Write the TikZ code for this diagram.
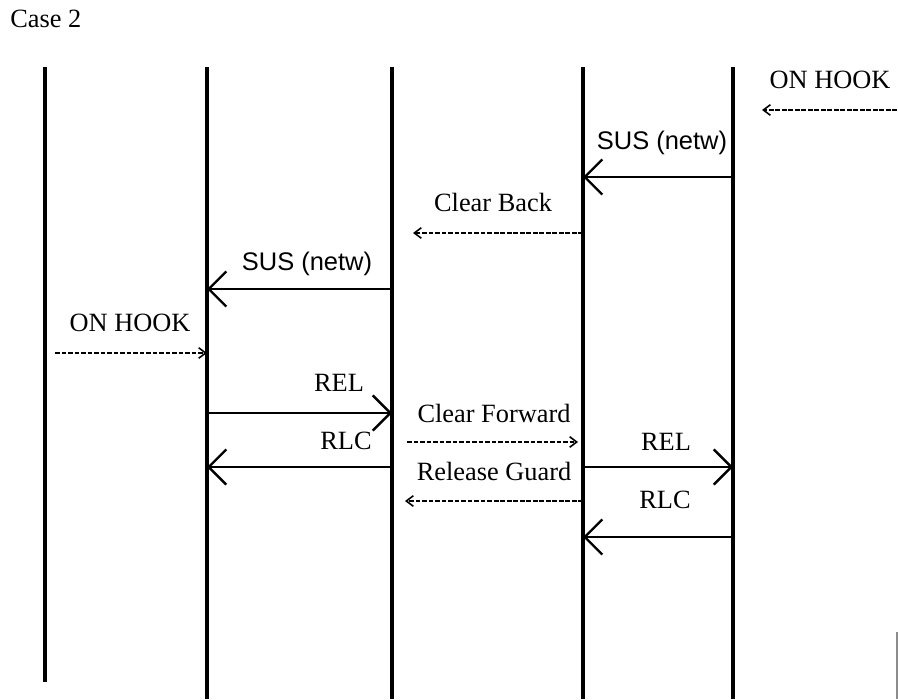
\documentclass[tikz,border=0pt]{standalone}
\usepackage{fontspec}
\setmainfont{Liberation Serif}
\newfontfamily\helv{Liberation Sans}
\usetikzlibrary{arrows.meta,positioning,calc}

\begin{document}
\begin{tikzpicture}[x=0.02cm,y=-0.02cm,
    lifeline/.style={draw=black, line width=2pt},
    sig/.style={draw=black, line width=0.7pt, -{Straight Barb[length=10pt,width=20pt,line width=1.4pt]}},
    tone/.style={draw=black, line width=1pt, dash pattern=on 2.6pt off 1.1pt, -{Straight Barb[length=4pt,width=6pt,line width=0.9pt]}},
    lbl/.style={font=\fontsize{15}{18}\selectfont, inner sep=0pt},
    suslbl/.style={font=\helv\fontsize{14.5}{17}\selectfont, inner sep=0pt}]

\useasboundingbox (0,0) rectangle (898,699);

\node[lbl, anchor=west] (title) at (10,19) {Case 2};

% lifelines
\foreach \n/\x in {1/45, 2/207, 3/392, 4/583, 5/733} {
  \coordinate (t\n) at (\x,67);
}
\coordinate (b1) at (45,682);
\foreach \n in {2,...,5} {
  \coordinate (b\n) at ($(t\n)+(0,632)$);
}
\foreach \n in {1,...,5} {
  \draw[lifeline] (t\n) -- (b\n);
}

% free ends
\coordinate (hookR) at (897,110);
\coordinate (hookRend) at (762,110);
\coordinate (cbend) at (413,233);
\coordinate (hookL) at (55,353);
\coordinate (cfstart) at (407,442);
\coordinate (cfend) at (578,442);
\coordinate (rgend) at (405,501);

% signals
\draw[tone] (hookR) -- (hookRend);
\node[lbl] (onhook1) at (830,80) {ON HOOK};

\draw[sig] (t5 |- 0,177) -- (t4 |- 0,177);
\node[suslbl] (sus1) at (662,143) {SUS (netw)};

\draw[tone] (t4 |- cbend) -- (cbend);
\node[lbl] (clearback) at (493,202) {Clear Back};

\draw[sig] (t3 |- 0,289) -- (t2 |- 0,289);
\node[suslbl] (sus2) at (307,264) {SUS (netw)};

\draw[tone] (hookL) -- (t2 |- hookL);
\node[lbl] (onhook2) at (130,323) {ON HOOK};

\draw[sig] (t2 |- 0,413) -- (t3 |- 0,413);
\node[lbl] (rel1) at (339,383) {REL};

\draw[tone] (cfstart) -- (cfend);
\node[lbl] (clearfwd) at (494,413) {Clear Forward};

\draw[sig] (t3 |- 0,467) -- (t2 |- 0,467);
\node[lbl] (rlc1) at (346,441) {RLC};

\draw[sig] (t4 |- 0,467) -- (t5 |- 0,467);
\node[lbl] (rel2) at (666,442) {REL};

\draw[tone] (t4 |- rgend) -- (rgend);
\node[lbl] (relguard) at (494,471) {Release Guard};

\draw[sig] (t5 |- 0,537) -- (t4 |- 0,537);
\node[lbl] (rlc2) at (665,500) {RLC};

% scan edge
\draw[black!45, line width=0.8pt] (897,632) -- (897,699);
\end{tikzpicture}
\end{document}
